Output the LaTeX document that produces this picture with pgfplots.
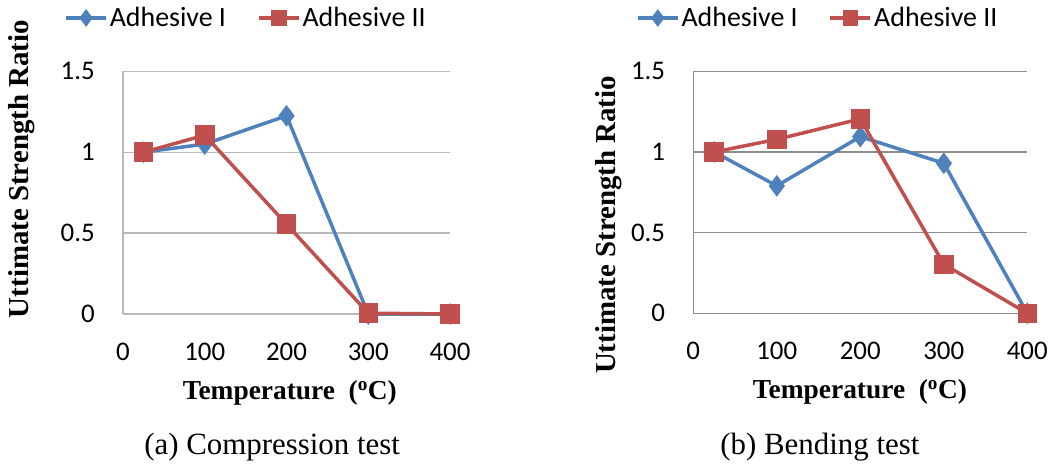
\documentclass[border=0pt]{standalone}
\usepackage{fontspec}
\setmainfont{Liberation Serif}
\newfontfamily\carlito{Carlito}
\usepackage{pgfplots}
\pgfplotsset{compat=1.18}
\definecolor{cblue}{RGB}{79,129,189}
\definecolor{cred}{RGB}{192,80,77}
\definecolor{gridA}{RGB}{185,185,185}
\definecolor{gridB}{RGB}{140,140,140}
\newcommand{\lgf}{\carlito\fontsize{28}{28}\selectfont}
\pgfplotsset{
  mystyle/.style={
    scale only axis, xmin=0, xmax=400, ymin=0, ymax=1.5,
    xtick={0,100,200,300,400}, ytick={0,0.5,1,1.5},
    axis x line*=bottom, axis y line*=left,
    axis line style={-, line width=1.3bp},
    major tick length=0pt,
    ymajorgrids,
    tick label style={font=\carlito\fontsize{27}{27}\selectfont},
    /pgf/number format/assume math mode=true,
    xticklabel style={anchor=north, inner sep=0pt, yshift=-29bp},
    yticklabel style={anchor=east, inner sep=0pt, xshift=-28bp},
    clip=false,
    legend columns=2,
    legend style={draw=none, fill=none, font=\lgf,
      anchor=west, inner sep=0pt,
      nodes={inner sep=2bp},
      /tikz/every even column/.append style={column sep=29bp}},
    legend image code/.code={\draw[mark repeat=2,mark phase=2,mark options={scale=0.75}] plot coordinates {(0bp,0bp)(20bp,0bp)(40bp,0bp)};},
    label style={font=\bfseries\fontsize{27.5}{27.5}\selectfont},
    ylabel style={font=\bfseries\fontsize{29}{29}\selectfont},
    title style={font=\fontsize{31}{31}\selectfont, anchor=center},
    s1/.style={cblue, line width=3.5bp, mark=diamond*, mark size=8bp},
    s2/.style={cred, line width=3.5bp, mark=square*, mark size=8bp},
  },
}
\begin{document}
\begin{tikzpicture}
\path[use as bounding box] (0,0) rectangle (1058bp,471bp);
\begin{axis}[mystyle,
  at={(123bp,157bp)}, anchor=south west,
  width=327bp, height=242.7bp,
  axis line style={gridA},
  grid style={gridA, line width=1.3bp},
  xlabel={Temperature\ \ (\textsuperscript{o}C)},
  xlabel style={at={(axis description cs:0.51,-0.326)}, anchor=center},
  ylabel={Uttimate Strength Ratio},
  ylabel style={at={(axis description cs:-0.309,0.597)}, anchor=center},
  title={(a) Compression test},
  title style={at={(axis description cs:0.456,-0.573)}},
  legend style={at={(axis description cs:-0.18,1.22)}},
]
\addplot[s1] coordinates {(25,1.0)(100,1.05)(200,1.225)(300,0)(400,0)};
\addlegendentry{Adhesive I}
\addplot[s2] coordinates {(25,1.0)(100,1.105)(200,0.555)(300,0.005)(400,0)};
\addlegendentry{Adhesive II}
\end{axis}
\begin{axis}[mystyle,
  at={(693.3bp,157.7bp)}, anchor=south west,
  width=334bp, height=242bp,
  axis line style={gridB},
  grid style={gridB, line width=1.3bp},
  xlabel={Temperature\ \ (\textsuperscript{o}C)},
  xlabel style={at={(axis description cs:0.499,-0.325)}, anchor=center},
  ylabel={Uttimate Strength Ratio},
  ylabel style={at={(axis description cs:-0.252,0.365)}, anchor=center},
  title={(b) Bending test},
  title style={at={(axis description cs:0.379,-0.577)}},
  legend style={at={(axis description cs:-0.172,1.22)}},
]
\addplot[s1] coordinates {(25,1.0)(100,0.79)(200,1.095)(300,0.93)(400,0)};
\addlegendentry{Adhesive I}
\addplot[s2] coordinates {(25,1.0)(100,1.078)(200,1.205)(300,0.304)(400,0)};
\addlegendentry{Adhesive II}
\end{axis}
\end{tikzpicture}
\end{document}
